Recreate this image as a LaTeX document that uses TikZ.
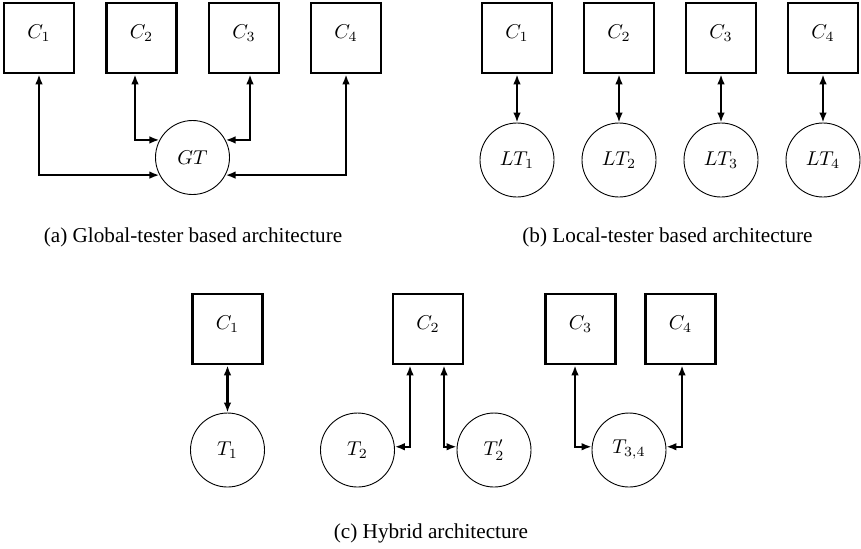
\documentclass[tikz,border=0pt]{standalone}
\usepackage{amsmath,amssymb}
\usepackage{fontspec}
\setmainfont{Liberation Serif}
\usepackage{tikz}
\usetikzlibrary{arrows.meta}

\tikzset{
  comp/.style={draw,line width=1.3pt,minimum size=35pt,inner sep=0pt,text depth=6pt},
  tester/.style={draw,circle,line width=0.45pt,minimum size=37pt,inner sep=0pt},
  link/.style={line width=1.1pt,{Latex[length=5pt,width=3.8pt]}-{Latex[length=5pt,width=3.8pt]}},
  caption/.style={font=\fontsize{10.6pt}{12pt}\selectfont},
}

\begin{document}
\begin{tikzpicture}[x=0.5pt,y=-0.5pt]
            \useasboundingbox (0,0) rectangle (861,548);

            \begin{scope}
                \node[comp] (a1) at (39,38) {$C_1$};
                \node[comp] (a2) at (141.5,38) {$C_2$};
                \node[comp] (a3) at (244,38) {$C_3$};
                \node[comp] (a4) at (346,38) {$C_4$};
                \node[tester] (gt) at (192.5,157.5) {$GT$};
                \draw[link] (a1.south) |- (gt.208);
                \draw[link] ([xshift=-3.25pt]a2.south) |- (gt.152);
                \draw[link] ([xshift=3pt]a3.south) |- (gt.28);
                \draw[link] (a4.south) |- (gt.332);
                \node[caption] (capa) at (193,237) {(a) Global-tester based architecture};
            \end{scope}

            \begin{scope}
                \foreach \i/\x in {1/517,2/619,3/721,4/823} {
                    \node[comp] (b\i) at (\x,38) {$C_\i$};
                    \node[tester] (lt\i) at (\x,160) {$LT_\i$};
                    \draw[link] (b\i.south) -- (lt\i.north);
                }
                \node[caption] (capb) at (667.5,237) {(b) Local-tester based architecture};
            \end{scope}

            \begin{scope}
                \node[comp] (c1) at (227.5,329) {$C_1$};
                \node[comp] (c2) at (428,329) {$C_2$};
                \node[comp] (c3) at (580.5,329) {$C_3$};
                \node[comp] (c4) at (680.5,329) {$C_4$};
                \node[tester] (t1) at (227.5,450) {$T_1$};
                \node[tester] (t2) at (357.5,450) {$T_2$};
                \node[tester] (t2p) at (494,450) {$T_2'$};
                \node[tester] (t34) at (629,450) {$T_{3,4}$};
                \draw[link] (c1.south) -- (t1.north);
                \draw[link] ([xshift=-9pt]c2.south) |- (t2.5);
                \draw[link] ([xshift=8pt]c2.south) |- (t2p.175);
                \draw[link] ([xshift=-2.75pt]c3.south) |- (t34.175);
                \draw[link] ([xshift=0.75pt]c4.south) |- (t34.5);
                \node[caption] (capc) at (431,533) {(c) Hybrid architecture};
            \end{scope}
        \end{tikzpicture}
\end{document}
